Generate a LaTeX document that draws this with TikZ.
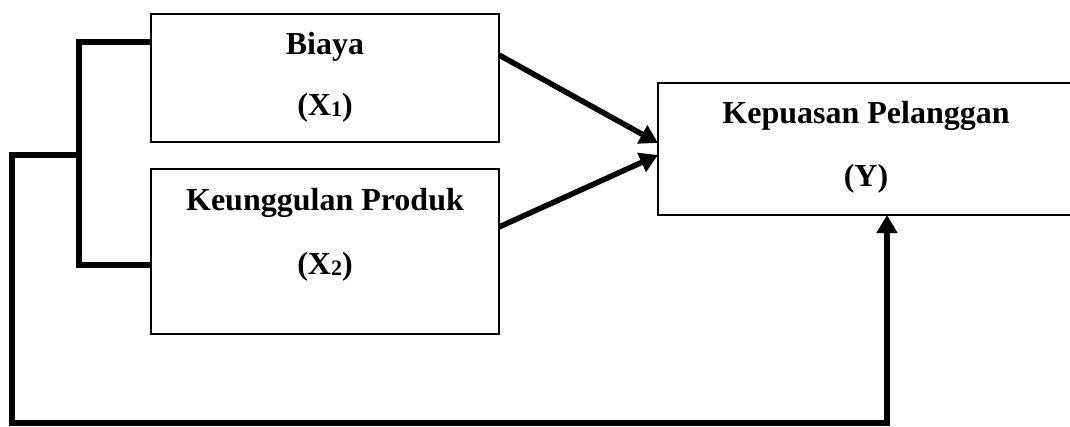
\documentclass[tikz,border=0pt]{standalone}
\usepackage{fontspec}
\setmainfont{Liberation Serif}
\usetikzlibrary{arrows.meta,calc}

\tikzset{
  varbox/.style={draw, line width=1.6pt, minimum width=#1, inner sep=0pt, outer sep=0pt},
  lbl/.style={anchor=base, inner sep=0pt, font=\fontsize{32}{38}\selectfont\bfseries},
  link/.style={line width=5.5pt, line cap=butt, line join=miter},
  flow/.style={link, -{Triangle[length=18pt,width=20pt]}},
}
\newcommand{\idx}[1]{\raisebox{-1.5pt}{\fontsize{22}{24}\selectfont #1}}

\begin{document}
\begin{tikzpicture}[x=1pt,y=-1pt]
  \useasboundingbox (0,0) rectangle (1070,426);
  \clip (0,0) rectangle (1070,426);

  % variable boxes
  \node[varbox=348pt, minimum height=128pt] (b1) at (325,78) {};
  \node[varbox=348pt, minimum height=165pt] (b2) at (325,251.5) {};
  \node[varbox=418pt, minimum height=132pt] (by) at (867,149) {};

  % labels
  \node[lbl] (t1) at (325,54) {Biaya};
  \node[lbl] (s1) at (325,115) {(X\idx{1})};
  \node[lbl] (t2) at (325,210) {Keunggulan Produk};
  \node[lbl] (s2) at (325,274) {(X\idx{2})};
  \node[lbl] (ty) at (866,123) {Kepuasan Pelanggan};
  \node[lbl] (sy) at (866,186) {(Y)};

  % connection points
  \coordinate (j1) at ($(b1.north west)+(0,28)$);
  \coordinate (j2) at ($(b2.north west)+(0,96)$);
  \coordinate (bk1) at (79,42);
  \coordinate (bk2) at (79,265);
  \coordinate (bkm) at (79,155);
  \coordinate (fl) at (12,155);
  \coordinate (fb) at (12,423);
  \coordinate (fr) at (887,423);
  \coordinate (o1) at ($(b1.north east)+(0,41)$);
  \coordinate (o2) at ($(b2.north east)+(0,58)$);
  \coordinate (i1) at ($(by.north west)+(0,60)$);
  \coordinate (i2) at ($(by.north west)+(0,72)$);
  \coordinate (iy) at (by.south west -| fr);

  % bracket joining the two independent variables
  \draw[link] (j1) -- (bk1) -- (bk2) -- (j2);
  % combined path to the dependent variable
  \draw[flow] (bkm) -- (fl) -- (fb) -- (fr) -- (iy);
  % individual effects
  \draw[flow] (o1) -- (i1);
  \draw[flow] (o2) -- (i2);
\end{tikzpicture}
\end{document}
